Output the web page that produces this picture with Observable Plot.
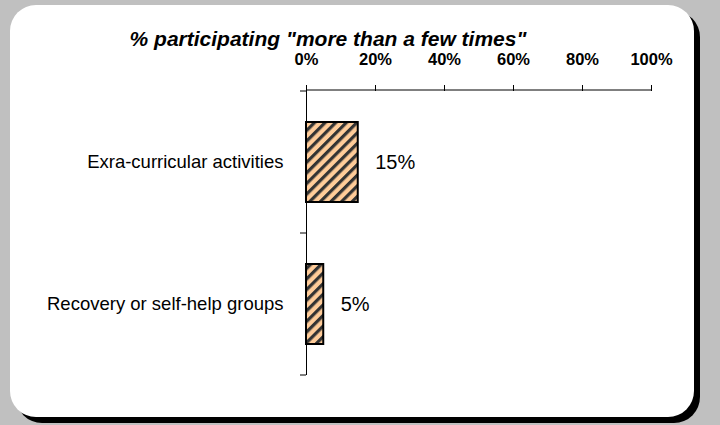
<!DOCTYPE html>
<html><head><meta charset="utf-8">
<script src="https://cdn.jsdelivr.net/npm/d3@7"></script>
<script src="https://cdn.jsdelivr.net/npm/@observablehq/plot@0.6"></script>
<style>
body{margin:0;background:#c0c0c0;font-family:"Liberation Sans",Arial,sans-serif;}
#wrap{position:relative;width:720px;height:425px;overflow:hidden;}
#card{position:absolute;left:10px;top:5px;width:684px;height:412px;background:#fff;border-radius:26px;box-shadow:6px 6px 0 #000;}
#title{position:absolute;left:0;width:656px;top:27px;line-height:1;text-align:center;font:italic bold 21px "Liberation Sans",Arial,sans-serif;color:#000;white-space:nowrap;}
#chart{position:absolute;left:0;top:0;}
#chart svg g[aria-label^="x-axis"] text{font-weight:bold;font-size:16.5px;}
</style>
</head><body>
<div id="wrap"><div id="card"></div><div id="chart"></div><div id="title">% participating "more than a few times"</div></div>
<script>
const categories = ["Exra-curricular activities", "Recovery or self-help groups"];
const values = [15, 5];
const xTicks = [0, 20, 40, 60, 80, 100];
const data = categories.map((c, i) => ({category: c, value: values[i]}));

function hatchDefs() {
  const defs = d3.create("svg:defs");
  const p = defs.append("pattern").attr("id", "hatch").attr("patternUnits", "userSpaceOnUse")
    .attr("width", 7.5).attr("height", 7.5).attr("patternTransform", "rotate(45)");
  p.append("rect").attr("width", 7.5).attr("height", 7.5).attr("fill", "#ffcc99");
  p.append("rect").attr("width", 3.2).attr("height", 7.5).attr("fill", "#333");
  return defs.node();
}

function axisFrame(index, scales, values, dims) {
  const x = scales.x, y = scales.y;
  const g = d3.create("svg:g").attr("stroke", "black").attr("stroke-width", 1);
  const top = dims.marginTop;
  g.append("line").attr("x1", x(0)).attr("x2", x(100)).attr("y1", top).attr("y2", top);
  let bounds;
  const bwRaw = y && y.bandwidth;
  const bw = typeof bwRaw === "function" ? bwRaw() : bwRaw;
  const ys = categories.map(c => y(c));
  if (Number.isFinite(bw) && ys.length > 1) {
    const step = ys[1] - ys[0];
    const gap = (step - bw) / 2;
    bounds = ys.map(v => v - gap).concat([ys[ys.length - 1] + bw + gap]);
  } else {
    const h = dims.height - dims.marginTop - dims.marginBottom;
    bounds = d3.range(categories.length + 1).map(i => dims.marginTop + i * h / categories.length);
  }
  bounds.forEach(b => g.append("line").attr("x1", x(0) - 6).attr("x2", x(0)).attr("y1", b).attr("y2", b));
  return g.node();
}

const chart = Plot.plot({
  width: 720, height: 425,
  marginLeft: 306, marginRight: 69, marginTop: 90, marginBottom: 50,
  style: {background: "transparent", fontFamily: "Liberation Sans, Arial, sans-serif", fontSize: "18.5px", color: "black", overflow: "visible"},
  x: {domain: [0, 100], axis: "top", ticks: xTicks, tickSize: 6, tickPadding: 20, tickFormat: d => d + "%", label: null},
  y: {domain: categories, paddingInner: 0.44, paddingOuter: 0.22, axis: "left", tickSize: 0, tickPadding: 23, label: null},
  marks: [
    hatchDefs,
    Plot.barX(data, {x: "value", y: "category", fill: "url(#hatch)", stroke: "black", strokeWidth: 2}),
    Plot.ruleX([0], {stroke: "black"}),
    axisFrame,
    Plot.text(data, {x: "value", y: "category", text: d => d.value + "%", textAnchor: "start", dx: 17, fontSize: 20, fill: "black"})
  ]
});
document.getElementById("chart").appendChild(chart);
</script>
</body></html>
